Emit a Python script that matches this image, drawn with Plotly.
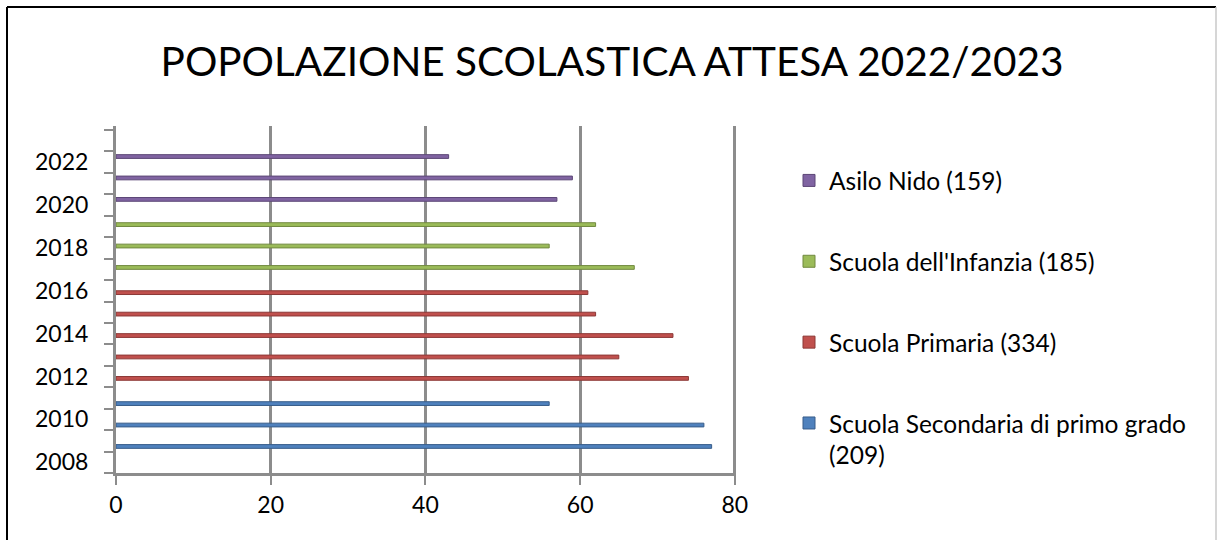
import plotly.graph_objects as go

years = list(range(2008, 2024))
secondaria_years = [2009, 2010, 2011]
secondaria_vals = [77, 76, 56]
primaria_years = [2012, 2013, 2014, 2015, 2016]
primaria_vals = [74, 65, 72, 62, 61]
infanzia_years = [2017, 2018, 2019]
infanzia_vals = [67, 56, 62]
nido_years = [2020, 2021, 2022]
nido_vals = [57, 59, 43]
tick_years = [2008, 2010, 2012, 2014, 2016, 2018, 2020, 2022]

series = [
    ("Scuola Secondaria di primo grado<br>(209)", secondaria_years, secondaria_vals, "#4F81BD", "#385D8A"),
    ("Scuola Primaria (334)", primaria_years, primaria_vals, "#C0504D", "#8C3836"),
    ("Scuola dell'Infanzia (185)", infanzia_years, infanzia_vals, "#9BBB59", "#71893F"),
    ("Asilo Nido (159)", nido_years, nido_vals, "#8064A2", "#5C4776"),
]

FONT = "Lato"
GRID = "#8C8C8C"

fig = go.Figure()
for i, (name, ys, vals, col, edge) in enumerate(series):
    m = dict(zip(ys, vals))
    fig.add_trace(go.Bar(
        y=years, x=[m.get(y) for y in years], orientation="h", name=name,
        marker=dict(color=col, line=dict(color=edge, width=1)),
        legendgroup=f"g{i}", legendrank=len(series) - i,
    ))

W, H = 1217, 540
L, R, T, B = 116, 736, 126, 473
pw, ph = R - L, B - T

def px(x):
    return (x - L) / pw

def py(y):
    return (B - y) / ph

fig.update_layout(
    width=W, height=H,
    margin=dict(l=L, r=W - R, t=T, b=H - B, pad=0, autoexpand=False),
    paper_bgcolor="white", plot_bgcolor="white",
    barmode="group", bargap=0.3, bargroupgap=0,
    font=dict(family=FONT, color="black"),
    title=dict(text="POPOLAZIONE SCOLASTICA ATTESA 2022/2023", x=612 / W, xanchor="center",
               y=1 - 62 / H, yanchor="middle", font=dict(size=40.5, family=FONT, color="black")),
    legend=dict(x=px(789), xanchor="left", y=py(158), yanchor="top",
                traceorder="grouped", tracegroupgap=46, valign="top",
                font=dict(size=24.5, family=FONT, color="black"), bgcolor="rgba(0,0,0,0)"),
    xaxis=dict(range=[0, 80.15], tickvals=[0, 20, 40, 60, 80], showgrid=True, gridcolor=GRID, gridwidth=2.5,
               zeroline=False, showline=True, linecolor=GRID, linewidth=3, automargin=False,
               ticks="outside", ticklen=9, tickcolor=GRID, tickwidth=2,
               tickfont=dict(size=23, family=FONT, color="black"), fixedrange=True),
    yaxis=dict(range=[2007.5, 2023.5 + 4 / 21.4375], tickvals=tick_years, ticktext=[str(t) for t in tick_years],
               showgrid=False, zeroline=False, showline=True, linecolor=GRID, linewidth=3, automargin=False,
               ticks="", ticklabelstandoff=20,
               minor=dict(tickvals=[2007.5 + k for k in range(17)], ticks="outside", ticklen=9,
                          tickcolor=GRID, tickwidth=2, showgrid=False),
               tickfont=dict(size=23, family=FONT, color="black"), fixedrange=True),
    showlegend=True,
    shapes=[
        dict(type="line", xref="paper", yref="paper", x0=px(7), x1=px(7), y0=py(7), y1=py(560),
             line=dict(color="black", width=2)),
        dict(type="line", xref="paper", yref="paper", x0=px(7), x1=px(1216), y0=py(7), y1=py(7),
             line=dict(color="black", width=2)),
        dict(type="line", xref="paper", yref="paper", x0=px(1216), x1=px(1216), y0=py(7), y1=py(560),
             line=dict(color="#C8C8C8", width=1.5)),
    ],
)

fig.write_html("out.html", config={"displayModeBar": False},
               post_script="document.body.style.margin='0';document.body.style.overflow='hidden';")
